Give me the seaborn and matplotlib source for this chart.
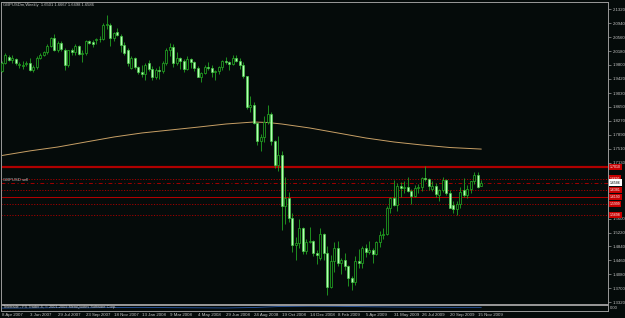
import numpy as np
import pandas as pd
import matplotlib
matplotlib.use("Agg")
import matplotlib.pyplot as plt
import matplotlib.transforms as mtransforms
import seaborn as sns

# ---------------- data ----------------
opens = [1.9640,1.9860,2.0010,1.9940,1.9960,1.9800,1.9760,1.9830,1.9860,1.9670,
         1.9740,1.9990,2.0070,2.0150,2.0330,2.0540,2.0210,2.0400,2.0210,1.9800,
         2.0200,2.0150,2.0320,2.0090,2.0120,2.0440,2.0420,2.0470,2.0510,2.0500,
         2.0880,2.0900,2.0530,2.0690,2.0600,2.0340,2.0200,1.9720,1.9990,1.9740,
         1.9610,1.9560,1.9850,1.9680,1.9460,1.9650,1.9630,1.9860,2.0220,2.0300,
         1.9860,1.9980,1.9900,1.9680,1.9960,1.9870,1.9710,1.9480,1.9570,1.9730,
         1.9720,1.9600,1.9630,1.9740,1.9920,1.9880,1.9820,2.0000,1.9910,1.9810,
         1.9490,1.8640,1.8700,1.8220,1.7720,1.7830,1.8250,1.8470,1.7710,1.7070,
         1.7350,1.5950,1.6160,1.5630,1.4880,1.4920,1.5350,1.4720,1.4960,1.5000,
         1.4660,1.4530,1.5180,1.4650,1.3720,1.4450,1.4800,1.4400,1.4480,1.4300,
         1.3980,1.3870,1.4450,1.4380,1.4790,1.4680,1.4750,1.4630,1.4960,1.5150,
         1.5180,1.5890,1.6160,1.5975,1.6480,1.6440,1.6460,1.6350,1.6230,1.6440,
         1.6460,1.6720,1.6680,1.6400,1.6500,1.6240,1.6380,1.6650,1.6290,1.5970,
         1.5860,1.6010,1.6380,1.6250,1.6410,1.6620,1.6790,1.6501]
highs = [1.9900,2.0133,2.0060,2.0070,1.9990,1.9880,1.9900,1.9920,1.9990,1.9790,
         2.0030,2.0130,2.0190,2.0360,2.0560,2.0655,2.0440,2.0460,2.0250,2.0220,
         2.0260,2.0360,2.0350,2.0200,2.0490,2.0490,2.0470,2.0540,2.0580,2.0940,
         2.1161,2.0950,2.0700,2.0800,2.0640,2.0420,2.0250,2.0050,2.0020,1.9770,
         1.9800,1.9860,1.9940,1.9760,1.9720,1.9770,1.9900,2.0270,2.0396,2.0360,
         2.0140,2.0010,1.9970,2.0030,2.0000,1.9900,1.9780,1.9600,1.9810,1.9890,
         1.9810,1.9670,1.9770,1.9940,2.0010,1.9920,2.0080,2.0060,1.9990,1.9870,
         1.9510,1.8960,1.8790,1.8250,1.7900,1.8400,1.8700,1.8500,1.7750,1.7850,
         1.7450,1.6740,1.6330,1.5750,1.5100,1.5590,1.5370,1.5050,1.5370,1.5010,
         1.4750,1.5350,1.5200,1.4850,1.4600,1.4950,1.5000,1.4520,1.4650,1.4330,
         1.4040,1.4590,1.4780,1.4860,1.4900,1.5000,1.4800,1.4990,1.5270,1.5350,
         1.5940,1.6190,1.6660,1.6560,1.6590,1.6620,1.6740,1.6400,1.6510,1.6550,
         1.6740,1.7043,1.6720,1.6640,1.6560,1.6420,1.6740,1.6680,1.6380,1.6080,
         1.6080,1.6470,1.6700,1.6520,1.6640,1.6880,1.6880,1.6667]
lows = [1.9600,1.9820,1.9900,1.9850,1.9800,1.9720,1.9700,1.9760,1.9640,1.9620,
        1.9700,1.9950,2.0050,2.0110,2.0300,2.0180,2.0150,2.0180,1.9660,1.9740,
        2.0080,2.0080,2.0060,1.9880,2.0080,2.0360,2.0300,2.0380,2.0420,2.0480,
        2.0780,2.0330,2.0440,2.0580,2.0160,2.0080,1.9780,1.9700,1.9680,1.9560,
        1.9480,1.9380,1.9630,1.9380,1.9420,1.9420,1.9580,1.9810,2.0050,1.9730,
        1.9800,1.9680,1.9610,1.9650,1.9720,1.9640,1.9460,1.9340,1.9540,1.9660,
        1.9470,1.9400,1.9560,1.9650,1.9830,1.9650,1.9800,1.9880,1.9690,1.9440,
        1.8600,1.8520,1.8180,1.7620,1.7437,1.7700,1.8180,1.7620,1.6980,1.6900,
        1.5280,1.5450,1.5510,1.4700,1.4460,1.4800,1.4620,1.4620,1.4940,1.4580,
        1.4355,1.4460,1.4460,1.3503,1.3700,1.4130,1.4300,1.4080,1.4200,1.3750,
        1.3658,1.3780,1.4240,1.4250,1.4560,1.4620,1.4400,1.4600,1.4830,1.5030,
        1.5150,1.5740,1.5940,1.5805,1.6180,1.6290,1.6320,1.6000,1.6190,1.6300,
        1.6350,1.6630,1.6380,1.6350,1.6200,1.6080,1.6320,1.6250,1.5880,1.5760,
        1.5700,1.5880,1.6200,1.6150,1.6300,1.6540,1.6440,1.6498]
closes = [1.9860,2.0080,1.9940,1.9990,1.9850,1.9830,1.9800,1.9860,1.9670,1.9740,
          1.9990,2.0070,2.0150,2.0330,2.0530,2.0210,2.0400,2.0230,1.9800,2.0200,
          2.0150,2.0320,2.0090,2.0120,2.0460,2.0410,2.0380,2.0510,2.0500,2.0880,
          2.0910,2.0530,2.0670,2.0620,2.0340,2.0130,1.9850,1.9990,1.9740,1.9610,
          1.9560,1.9800,1.9680,1.9460,1.9650,1.9630,1.9860,2.0220,2.0300,1.9860,
          1.9980,1.9900,1.9680,1.9960,1.9870,1.9710,1.9480,1.9570,1.9730,1.9720,
          1.9600,1.9630,1.9740,1.9920,1.9880,1.9820,2.0000,1.9910,1.9810,1.9490,
          1.8640,1.8700,1.8220,1.7720,1.7830,1.8250,1.8470,1.7710,1.7070,1.7350,
          1.5950,1.6160,1.5630,1.4880,1.4920,1.5350,1.4720,1.4960,1.5000,1.4660,
          1.4600,1.5180,1.4650,1.3720,1.4450,1.4800,1.4400,1.4480,1.4300,1.3980,
          1.3870,1.4450,1.4380,1.4790,1.4680,1.4750,1.4630,1.4960,1.5150,1.5180,
          1.5890,1.6150,1.5975,1.6480,1.6440,1.6460,1.6350,1.6230,1.6440,1.6460,
          1.6720,1.6680,1.6480,1.6500,1.6260,1.6380,1.6650,1.6290,1.5900,1.5860,
          1.6010,1.6330,1.6250,1.6410,1.6620,1.6800,1.6470,1.6586]

ma_bars = [0, 8, 16, 24, 32, 40, 48, 56, 64, 72, 76, 80, 88, 96, 104, 112, 120, 128, 137]
ma_values = [1.7324, 1.7450, 1.7557, 1.7694, 1.7830, 1.7940, 1.8020, 1.8100, 1.8185,
             1.8240, 1.8226, 1.8185, 1.8076, 1.7940, 1.7803, 1.7694, 1.7612, 1.7543, 1.7500]

ind_bars = [0, 8, 16, 24, 32, 40, 48, 56, 64, 72, 80, 88, 96, 104, 112, 120, 128, 137]
ind_values = [-0.20, -0.15, -0.05, -0.10, 0.00, 0.05, -0.05, -0.10, -0.15, 0.00,
              0.35, 0.45, 0.40, 0.25, 0.15, 0.10, 0.05, 0.05]

# visible price-scale labels (those hidden behind the level boxes are left out)
price_ticks = [2.1320, 2.0940, 2.0560, 2.0180, 1.9800, 1.9420, 1.9030, 1.8650, 1.8270,
               1.7890, 1.7510, 1.7130, 1.5600, 1.5220, 1.4840,
               1.4460, 1.4080, 1.3700, 1.3320]
price_tick_labels = ["2.1320", "2.0940", "2.0560", "2.0180", "1.9800", "1.9420", "1.9030",
                     "1.8650", "1.8270", "1.7890", "1.7510", "1.7130", "1.5600", "1.5220",
                     "1.4840", "1.4460", "1.4080", "1.3700", "1.3320"]

date_tick_bars = [0, 8, 16, 24, 32, 40, 48, 56, 64, 72, 80, 88, 96, 104, 112, 120, 128, 136]
date_tick_labels = ["8 Apr 2007", "3 Jun 2007", "29 Jul 2007", "23 Sep 2007", "18 Nov 2007",
                    "13 Jan 2008", "9 Mar 2008", "4 May 2008", "29 Jun 2008", "24 Aug 2008",
                    "19 Oct 2008", "14 Dec 2008", "8 Feb 2009", "5 Apr 2009", "31 May 2009",
                    "26 Jul 2009", "20 Sep 2009", "15 Nov 2009"]

level_prices = [1.7010, 1.6695, 1.6381, 1.6190, 1.5999, 1.5698]
level_kinds = ["thick", "dot", "dot", "thin", "dot", "dot"]
bid_price = 1.6586
title_text = "GBPUSDm,Weekly  1.6501 1.6667 1.6498 1.6586"
object_text = "GBPUSD sell"
footer_text = "Teletrade - FX Trader 4, \u00a9 2001-2009 MetaQuotes Software Corp."

# ---------------- style ----------------
sns.set_style("dark")
plt.rcParams['font.family'] = ['Liberation Sans', 'DejaVu Sans']
BG = '#050b0a'
GRAYTXT = '#c4c4c4'
FRAME = '#9a9a9a'
WICK = '#22a522'
BULL_EDGE = '#22a522'
BEAR_FACE = '#b6ffb6'
BEAR_EDGE = '#44d044'
RED = '#b00000'

W, H = 625, 318
fig = plt.figure(figsize=(W / 100, H / 100), dpi=100, facecolor=BG)


def rect(x0, y0, x1, y1):
    return [x0 / W, 1 - y1 / H, (x1 - x0) / W, (y1 - y0) / H]


ax = fig.add_axes(rect(1.5, 1.5, 608, 303.5))
axi = fig.add_axes(rect(1.5, 304.5, 608, 310.5), sharex=ax)
for a in (ax, axi):
    a.set_facecolor(BG)
    a.grid(False)
    for s in a.spines.values():
        s.set_color(FRAME)
        s.set_linewidth(0.7)

# ---------------- candles ----------------
df = pd.DataFrame({"o": opens, "h": highs, "l": lows, "c": closes})
df["i"] = np.arange(len(df))
bull = df["c"] >= df["o"]
body_low = np.minimum(df["o"], df["c"])
body_h = np.maximum((df["c"] - df["o"]).abs(), 0.0009)

ax.vlines(df["i"], df["l"], df["h"], color=WICK, lw=0.6, zorder=3)
ax.bar(df["i"][bull], body_h[bull], bottom=body_low[bull], width=0.62,
       color=BG, edgecolor=BULL_EDGE, linewidth=0.55, zorder=4)
ax.bar(df["i"][~bull], body_h[~bull], bottom=body_low[~bull], width=0.62,
       color=BEAR_FACE, edgecolor=BEAR_EDGE, linewidth=0.45, zorder=4)

# moving average
sns.lineplot(x=ma_bars, y=ma_values, ax=ax, color='#c8a066', lw=0.7, zorder=2)

# horizontal levels
for p, k in zip(level_prices, level_kinds):
    if k == "thick":
        ax.axhline(p, color=RED, lw=1.6, zorder=1.8)
    elif k == "thin":
        ax.axhline(p, color=RED, lw=0.75, zorder=1.8)
    else:
        ax.axhline(p, color='#a00000', lw=0.7, ls=(0, (1.2, 1.6)), zorder=1.8)
ax.axhline(bid_price, color='#a00000', lw=0.7, ls=(0, (4, 2.5, 1, 2.5)), zorder=1.8)

ax.set_ylim(1.3280, 2.1533)
ax.set_xlim(-0.1, 173.2)

# right price axis
ax.yaxis.tick_right()
ax.set_yticks(price_ticks)
ax.set_yticklabels(price_tick_labels)
ax.tick_params(axis='y', colors=FRAME, labelcolor=GRAYTXT, labelsize=3.1,
               length=2, width=0.5, pad=1.2, direction='out', right=True, left=False)
ax.tick_params(axis='x', bottom=False, labelbottom=False)

blend = mtransforms.blended_transform_factory(ax.transAxes, ax.transData)
for p in level_prices:
    ax.text(1.003, p, f"{p:.4f}", transform=blend, ha='left', va='center',
            fontsize=2.5, color='white', clip_on=False, zorder=10,
            bbox=dict(boxstyle='square,pad=0.3', fc='#c80000', ec='none'))
ax.text(1.003, bid_price, f"{bid_price:.4f}", transform=blend, ha='left', va='center',
        fontsize=2.5, color='black', clip_on=False, zorder=11,
        bbox=dict(boxstyle='square,pad=0.3', fc='white', ec='none'))

# texts
ax.text(0.003, 1.6655, object_text, transform=blend, fontsize=3.0, color=GRAYTXT,
        ha='left', va='center', zorder=6)
fig.text(3 / W, 1 - 4.8 / H, title_text, fontsize=3.0, color=GRAYTXT,
         ha='left', va='center')

# indicator sub-window
sns.lineplot(x=ind_bars, y=ind_values, ax=axi, color='#2a5aa8', lw=0.6)
axi.set_ylim(-1, 1)
axi.yaxis.tick_right()
axi.set_yticks([0.0])
axi.set_yticklabels(["0.00"])
axi.tick_params(axis='y', colors=FRAME, labelcolor=GRAYTXT, labelsize=3.0,
                length=0, pad=1.5, right=True, left=False)
axi.set_xticks(date_tick_bars)
axi.set_xticklabels(date_tick_labels)
axi.tick_params(axis='x', colors=FRAME, labelcolor=GRAYTXT, labelsize=3.2,
                length=1.5, width=0.5, pad=0.6, direction='out')
for lab in axi.get_xticklabels():
    lab.set_ha('left')
axi.text(0.002, 0.55, footer_text, transform=axi.transAxes, fontsize=2.8,
         color=GRAYTXT, ha='left', va='center')
axi.set_xlabel("")
axi.set_ylabel("")
ax.set_xlabel("")
ax.set_ylabel("")

fig.savefig("out.png", dpi=100, facecolor=BG)
